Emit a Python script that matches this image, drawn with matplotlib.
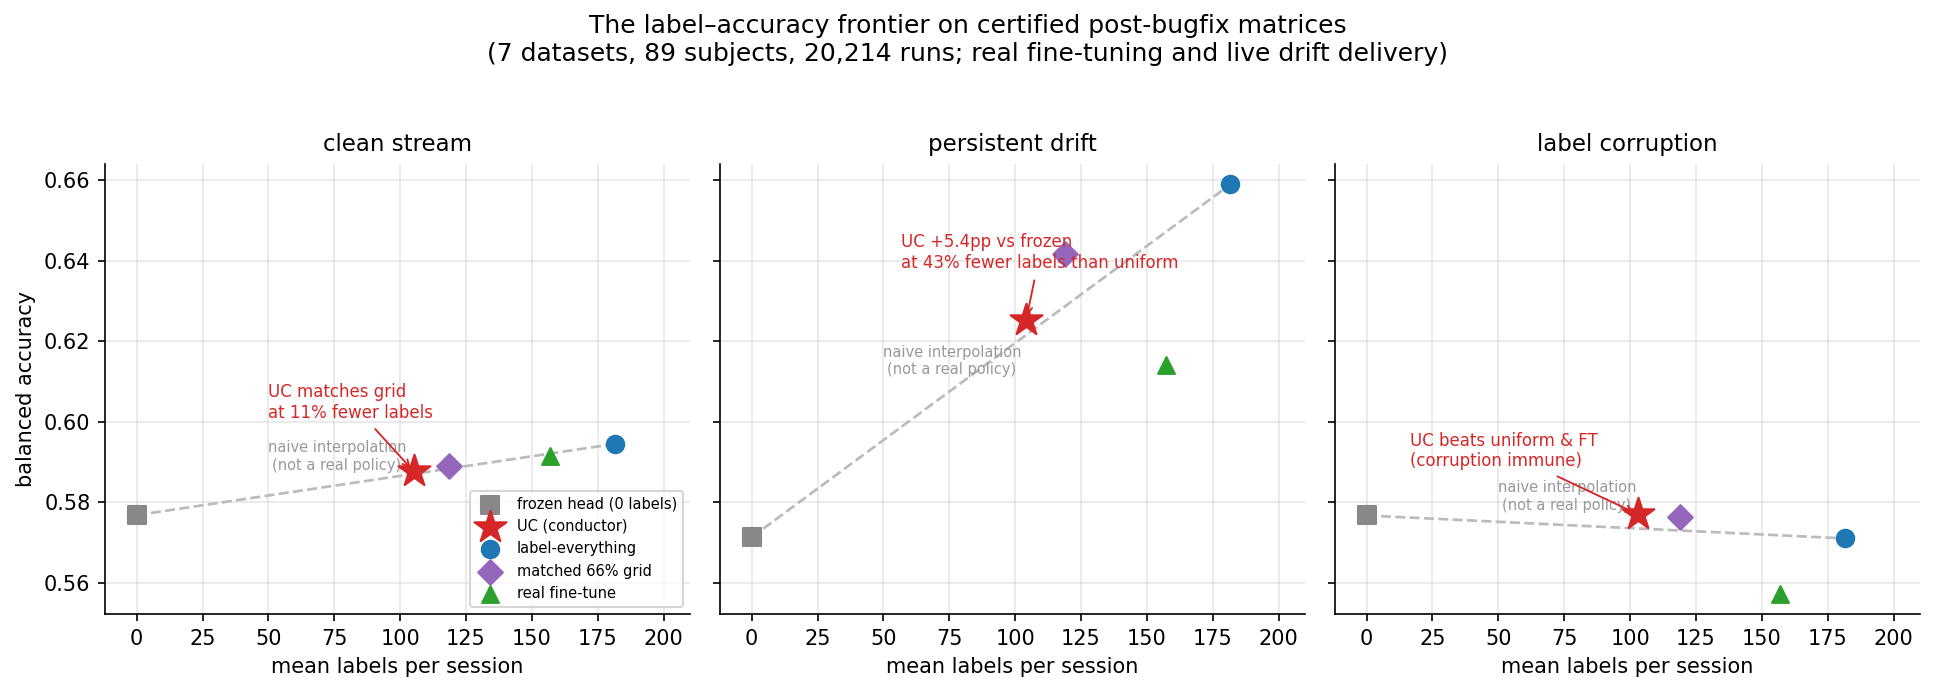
import numpy as np
import matplotlib
matplotlib.use("Agg")
import matplotlib.pyplot as plt

# ---- data ----
panels = ["clean stream", "persistent drift", "label corruption"]

frozen_x = [0.0, 0.0, 0.0]
frozen_y = [0.5768, 0.5713, 0.5767]

uc_x = [105.1, 104.2, 103.0]
uc_y = [0.5877, 0.6253, 0.5770]

all_x = [181.6, 181.7, 181.6]
all_y = [0.5945, 0.6590, 0.5710]

grid_x = [118.7, 118.8, 118.8]
grid_y = [0.5891, 0.6418, 0.5763]

ft_x = [157.0, 157.1, 157.0]
ft_y = [0.5916, 0.6141, 0.5573]

uc_notes = ["UC matches grid\nat 11% fewer labels",
            "UC +5.4pp vs frozen\nat 43% fewer labels than uniform",
            "UC beats uniform & FT\n(corruption immune)"]
note_x = [50.0, 56.8, 16.4]
note_y = [0.6000, 0.6372, 0.5879]

naive_label_x = 76.0

RED = "#d62728"

fig, axes = plt.subplots(1, 3, figsize=(12.9, 4.62), dpi=150, sharey=True)
fig.subplots_adjust(left=0.0543, right=0.9922, bottom=0.114, top=0.7634, wspace=0.0513)

for i, ax in enumerate(axes):
    ax.plot([frozen_x[i], all_x[i]], [frozen_y[i], all_y[i]], ls="--",
            color="#bbbbbb", lw=1.3, zorder=1)
    ax.scatter([frozen_x[i]], [frozen_y[i]], marker="s", s=80, color="#888888",
               zorder=3, label="frozen head (0 labels)")
    ax.scatter([uc_x[i]], [uc_y[i]], marker="*", s=260, color=RED,
               zorder=4, label="UC (conductor)")
    ax.scatter([all_x[i]], [all_y[i]], marker="o", s=70, color="#1f77b4",
               zorder=3, label="label-everything")
    ax.scatter([grid_x[i]], [grid_y[i]], marker="D", s=70, color="#9467bd",
               zorder=3, label="matched 66% grid")
    ax.scatter([ft_x[i]], [ft_y[i]], marker="^", s=65, color="#2ca02c",
               zorder=3, label="real fine-tune")

    ly = np.interp(naive_label_x, [frozen_x[i], all_x[i]], [frozen_y[i], all_y[i]])
    ax.annotate("naive interpolation\n(not a real policy)", xy=(naive_label_x, ly),
                xytext=(0, 6), textcoords="offset points", ha="center", va="bottom",
                fontsize=7, color="#999999", zorder=2)

    ax.annotate(uc_notes[i], xy=(uc_x[i], uc_y[i]), xytext=(note_x[i], note_y[i]),
                ha="left", va="bottom", fontsize=8, color=RED,
                arrowprops=dict(arrowstyle="->", color=RED, lw=0.9), zorder=5)

    ax.set_title(panels[i], fontsize=11)
    ax.set_xlabel("mean labels per session", fontsize=10)
    ax.set_xlim(-12, 210)
    ax.set_xticks([0, 25, 50, 75, 100, 125, 150, 175, 200])
    ax.grid(True, alpha=0.3)
    ax.set_axisbelow(True)
    ax.spines["top"].set_visible(False)
    ax.spines["right"].set_visible(False)
    ax.tick_params(labelsize=10)

axes[0].set_ylabel("balanced accuracy", fontsize=10)
axes[0].legend(loc="lower right", fontsize=7)

fig.suptitle("The label\u2013accuracy frontier on certified post-bugfix matrices\n"
             "(7 datasets, 89 subjects, 20,214 runs; real fine-tuning and live drift delivery)",
             fontsize=12, y=0.98)

fig.savefig("out.png", dpi=150)
